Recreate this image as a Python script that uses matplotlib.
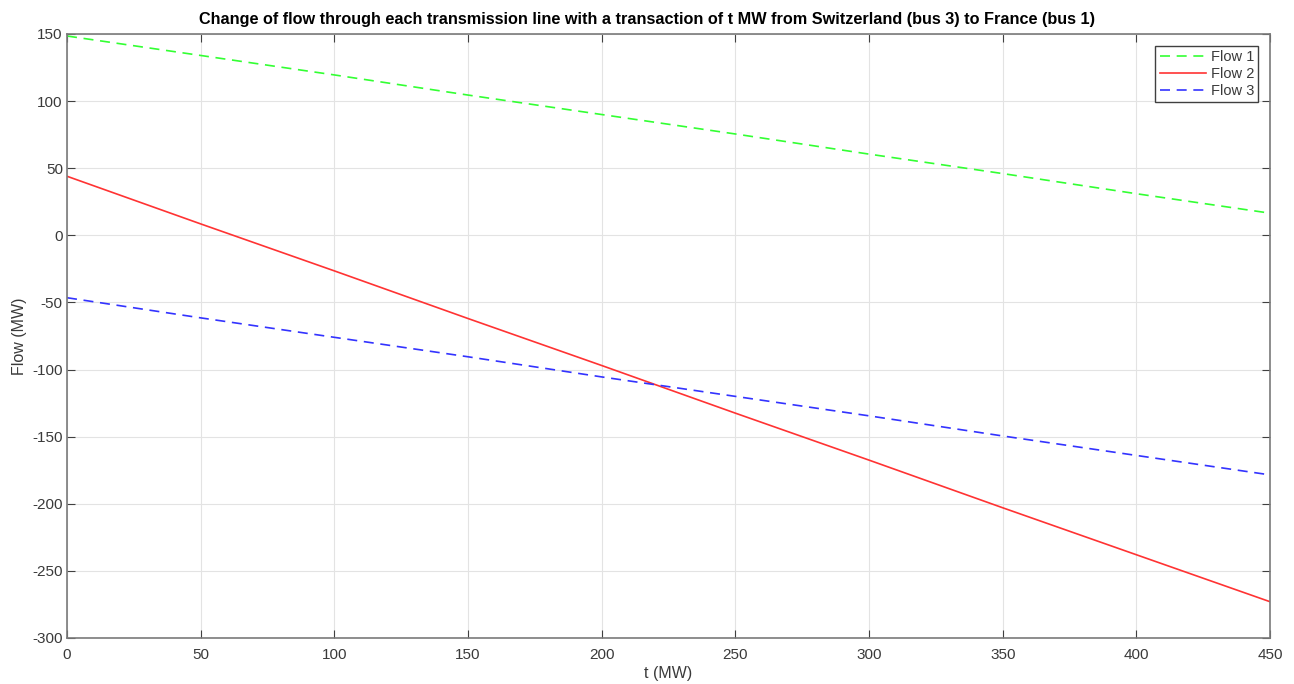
import matplotlib.pyplot as plt

t = [0, 50, 100, 150, 200, 250, 300, 350, 400, 450]
flow1 = [148.5, 134, 119.5, 104.5, 90, 75.5, 60.5, 46, 31, 16.5]
flow2 = [44, 8.5, -26.5, -62, -97, -132.5, -167.5, -203, -238, -273]
flow3 = [-46.5, -61.5, -76, -90.5, -105.5, -120, -134.5, -149.5, -164, -178.5]

plt.rcParams['font.family'] = ['Liberation Sans', 'DejaVu Sans']
plt.rcParams['axes.unicode_minus'] = False
axcol = '#3a3a3a'

fig = plt.figure(figsize=(12.94, 6.84), dpi=100)
ax = fig.add_axes([0.0518, 0.0673, 0.9297, 0.883])

ax.plot(t, flow1, '--', color='#33ff33', lw=1.2, dashes=(6, 4), label='Flow 1')
ax.plot(t, flow2, '-', color='#ff3333', lw=1.2, label='Flow 2')
ax.plot(t, flow3, '--', color='#3333ff', lw=1.2, dashes=(6, 4), label='Flow 3')

ax.set_xlim(0, 450)
ax.set_ylim(-300, 150)
ax.set_xticks(range(0, 451, 50))
ax.set_yticks(range(-300, 151, 50))
ax.grid(True, color='#e3e3e3', lw=0.8)
ax.set_axisbelow(True)
ax.tick_params(direction='in', length=6, colors='#404040', labelsize=11,
               top=True, right=True, labelcolor=axcol, pad=3)
ax.tick_params(axis='x', pad=7)
for s in ax.spines.values():
    s.set_color('#7a7a7a')
    s.set_linewidth(1.2)

ax.set_xlabel('t (MW)', fontsize=11.5, color=axcol, labelpad=3)
ax.set_ylabel('Flow (MW)', fontsize=11.5, color=axcol, labelpad=4)
fig.text(0.5, 0.971, 'Change of flow through each transmission line with a transaction of t MW '
         'from Switzerland (bus 3) to France (bus 1)',
         ha='center', va='center', fontsize=11.7, fontweight='bold', color='black')

leg = ax.legend(loc='upper right', fontsize=10.5, fancybox=False, framealpha=1,
                edgecolor='#404040', borderaxespad=0.8, handlelength=3.2,
                labelspacing=0.2, borderpad=0.3, handletextpad=0.3)
leg.get_frame().set_linewidth(1.0)
for txt in leg.get_texts():
    txt.set_color(axcol)

fig.savefig('out.png', dpi=100)
